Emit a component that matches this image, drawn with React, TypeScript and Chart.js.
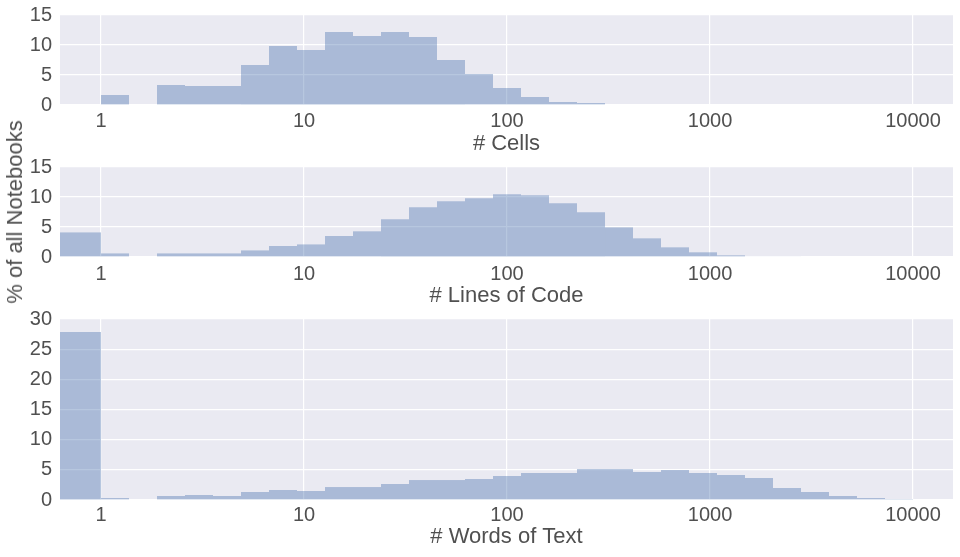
import React, { useEffect, useRef } from "react";
import { Chart, registerables } from "chart.js";

Chart.register(...registerables);

// ---- data ----
// x axis: log-spaced bins, 29 bins per 4 decades; bin index k covers
// [10^(k*4/29), 10^((k+1)*4/29)). Arrays start at bin index -2 (the
// "zero" bins that sit left of 1).
const FIRST_BIN = -2;
const BINS_PER_4_DECADES = 29;

const tickValues = [1, 10, 100, 1000, 10000];
const tickLabels = ["1", "10", "100", "1000", "10000"];

const cellsPct = [
  0, 0, 1.67, 0, 3.33, 3.17, 3.17, 6.67, 9.83, 9.17, 12.17, 11.5, 12.17, 11.33,
  7.5, 5.17, 2.83, 1.33, 0.5, 0.33, 0, 0, 0, 0, 0, 0, 0, 0, 0, 0, 0,
];
const linesPct = [
  4.1, 4.1, 0.6, 0, 0.6, 0.6, 0.6, 1.1, 1.83, 2.1, 3.5, 4.28, 6.28, 8.28, 9.28,
  9.78, 10.44, 10.28, 8.94, 7.44, 4.94, 3.11, 1.61, 0.78, 0.28, 0.11, 0.11, 0, 0,
  0, 0,
];
const wordsPct = [
  27.85, 27.85, 0.33, 0, 0.66, 0.83, 0.66, 1.33, 1.66, 1.49, 2.15, 2.15, 2.65,
  3.31, 3.31, 3.48, 3.98, 4.48, 4.48, 5.14, 5.14, 4.64, 4.97, 4.48, 4.14, 3.65,
  1.99, 1.33, 0.66, 0.33, 0.17,
];

const xTitles = ["# Cells", "# Lines of Code", "# Words of Text"];
const yTitle = "% of all Notebooks";
const yMaxes = [15, 15, 30];
const yStep = 5;

// ---- styles / layout ----
const FONT = "'Liberation Sans', Arial, Helvetica, sans-serif";
const TEXT = "#505050";
const BAR = "rgba(76,114,176,0.4)";
const BG = "#EAEAF2";
const X_MIN = -0.202;
const X_MAX = 4.197;

const PANELS = [
  { top: 0, height: 160, padTop: 15, xAxisH: 55, tickPad: 4, titlePB: 2.8 },
  { top: 148, height: 164, padTop: 19, xAxisH: 55, tickPad: 5, titlePB: 2.8 },
  { top: 298, height: 259, padTop: 21, xAxisH: 57, tickPad: 3, titlePB: 6.8 },
];

const bgPlugin = {
  id: "plotBg",
  beforeDraw(chart: any) {
    const { ctx, chartArea } = chart;
    if (!chartArea) return;
    ctx.save();
    ctx.fillStyle = BG;
    ctx.fillRect(chartArea.left, chartArea.top, chartArea.right - chartArea.left, chartArea.bottom - chartArea.top);
    ctx.restore();
  },
};

function binPoints(values: number[]) {
  const w = 4 / BINS_PER_4_DECADES;
  return values.map((v, i) => ({ x: (FIRST_BIN + i + 0.5) * w, y: v }));
}

export default function App() {
  const refs = [useRef<HTMLCanvasElement>(null), useRef<HTMLCanvasElement>(null), useRef<HTMLCanvasElement>(null)];

  useEffect(() => {
    const series = [cellsPct, linesPct, wordsPct];
    const charts: Chart[] = [];
    PANELS.forEach((p, i) => {
      const canvas = refs[i].current;
      if (!canvas) return;
      const chart = new Chart(canvas, {
        type: "bar",
        data: {
          datasets: [
            {
              data: binPoints(series[i]) as any,
              backgroundColor: BAR,
              borderWidth: 0,
              barPercentage: 1,
              categoryPercentage: 1,
              inflateAmount: 0,
            } as any,
          ],
        },
        options: {
          animation: false,
          responsive: true,
          maintainAspectRatio: false,
          layout: { padding: { top: p.padTop, left: 0, right: 7, bottom: 0 } },
          plugins: { legend: { display: false }, tooltip: { enabled: false } },
          scales: {
            x: {
              type: "linear",
              min: X_MIN,
              max: X_MAX,
              offset: false,
              afterBuildTicks: (s: any) => {
                s.ticks = tickValues.map((v) => ({ value: Math.log10(v) }));
              },
              afterFit: (s: any) => {
                s.height = p.xAxisH;
                s.paddingLeft = 0;
                s.paddingRight = 0;
              },
              grid: { color: "#ffffff", lineWidth: 1.2, drawTicks: false, offset: false },
              border: { display: false },
              ticks: {
                padding: p.tickPad,
                color: TEXT,
                font: { family: FONT, size: 20 },
                maxRotation: 0,
                autoSkip: false,
                callback: (_v: any, idx: number) => tickLabels[idx],
              },
              title: {
                display: true,
                text: xTitles[i],
                color: TEXT,
                font: { family: FONT, size: 22 },
                padding: { top: 0, bottom: p.titlePB },
              },
            },
            y: {
              type: "linear",
              min: 0,
              max: yMaxes[i],
              afterFit: (s: any) => {
                s.width = 60;
                s.paddingTop = 0;
                s.paddingBottom = 0;
              },
              grid: { color: "#ffffff", lineWidth: 1.2, drawTicks: false },
              border: { display: false },
              ticks: {
                stepSize: yStep,
                padding: 8,
                color: TEXT,
                font: { family: FONT, size: 20 },
              },
            },
          },
        } as any,
        plugins: [bgPlugin],
      });
      charts.push(chart);
    });
    return () => charts.forEach((c) => c.destroy());
  }, []);

  return (
    <div style={{ position: "absolute", left: 0, top: 0, width: 960, height: 557, background: "#ffffff" }}>
      {PANELS.map((p, i) => (
        <div key={i} style={{ position: "absolute", left: 0, top: p.top, width: 960, height: p.height }}>
          <canvas ref={refs[i]} />
        </div>
      ))}
      <div
        style={{
          position: "absolute",
          left: 15,
          top: 212,
          transform: "translate(-50%, -50%) rotate(-90deg)",
          whiteSpace: "nowrap",
          fontFamily: FONT,
          fontSize: 22,
          lineHeight: "26px",
          color: TEXT,
        }}
      >
        {yTitle}
      </div>
    </div>
  );
}
